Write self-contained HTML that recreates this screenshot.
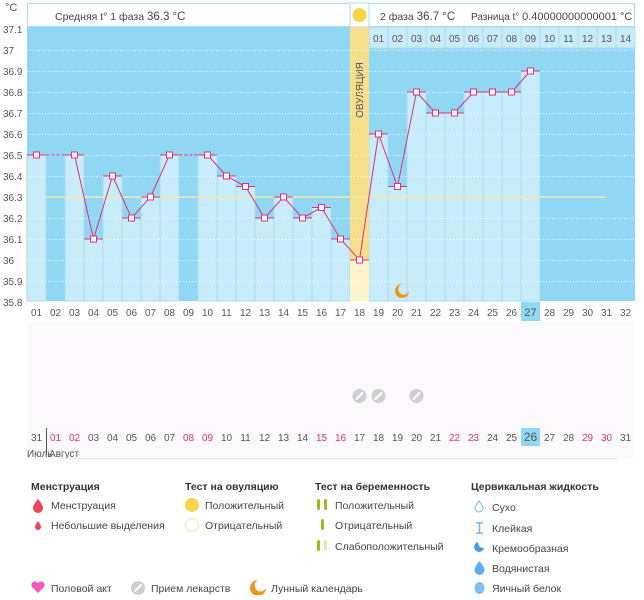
<!DOCTYPE html>
<html><head><meta charset="utf-8"><style>
body{margin:0;background:#fff;font-family:"Liberation Sans","DejaVu Sans",sans-serif;}
svg text{font-family:"Liberation Sans","DejaVu Sans",sans-serif;}
</style></head><body>
<svg width="644" height="595" xmlns="http://www.w3.org/2000/svg">
<rect x="0" y="0" width="644" height="595" fill="#fff"/>
<rect x="27" y="322" width="608" height="136" fill="#fbf9fc"/>
<rect x="27" y="27" width="608" height="274" fill="#8fd7f3"/>
<rect x="27.5" y="3.5" width="607" height="23" fill="#fff" stroke="#a8dcef"/>
<text x="55" y="20" font-size="10.5" fill="#444">Средняя t° 1 фаза <tspan font-size="11.5">36.3 °C</tspan></text>
<rect x="350" y="3" width="19" height="24" fill="#fff" stroke="#a8dcef"/>
<circle cx="359.5" cy="15" r="7" fill="#f7d54a"/>
<text x="380" y="20" font-size="10.5" fill="#444">2 фаза <tspan font-size="11.5">36.7 °C</tspan></text>
<text x="471" y="20" font-size="10" fill="#444">Разница t° <tspan font-size="11">0.40000000000001 °C</tspan></text>
<g fill="#c9ecfa" stroke="#a8dcef" stroke-width="1">
<rect x="369" y="27" width="19" height="21"/><rect x="388" y="27" width="19" height="21"/><rect x="407" y="27" width="19" height="21"/><rect x="426" y="27" width="19" height="21"/><rect x="445" y="27" width="19" height="21"/><rect x="464" y="27" width="19" height="21"/><rect x="483" y="27" width="19" height="21"/><rect x="502" y="27" width="19" height="21"/><rect x="521" y="27" width="19" height="21"/><rect x="540" y="27" width="19" height="21"/><rect x="559" y="27" width="19" height="21"/><rect x="578" y="27" width="19" height="21"/><rect x="597" y="27" width="19" height="21"/><rect x="616" y="27" width="19" height="21"/>
</g>
<g font-size="10" fill="#555" text-anchor="middle">
<text x="378.5" y="42">01</text><text x="397.5" y="42">02</text><text x="416.5" y="42">03</text><text x="435.5" y="42">04</text><text x="454.5" y="42">05</text><text x="473.5" y="42">06</text><text x="492.5" y="42">07</text><text x="511.5" y="42">08</text><text x="530.5" y="42">09</text><text x="549.5" y="42">10</text><text x="568.5" y="42">11</text><text x="587.5" y="42">12</text><text x="606.5" y="42">13</text><text x="625.5" y="42">14</text>
</g>
<g fill="#c9ecfa" stroke="#a8dcef" stroke-width="1">
<rect x="27" y="155" width="19" height="146"/>
<rect x="65" y="155" width="19" height="146"/>
<rect x="84" y="239" width="19" height="62"/>
<rect x="103" y="176" width="19" height="125"/>
<rect x="122" y="218" width="19" height="83"/>
<rect x="141" y="197" width="19" height="104"/>
<rect x="160" y="155" width="19" height="146"/>
<rect x="198" y="155" width="19" height="146"/>
<rect x="217" y="176" width="19" height="125"/>
<rect x="236" y="186.5" width="19" height="114.5"/>
<rect x="255" y="218" width="19" height="83"/>
<rect x="274" y="197" width="19" height="104"/>
<rect x="293" y="218" width="19" height="83"/>
<rect x="312" y="207.5" width="19" height="93.5"/>
<rect x="331" y="239" width="19" height="62"/>
<rect x="369" y="134" width="19" height="167"/>
<rect x="388" y="186.5" width="19" height="114.5"/>
<rect x="407" y="92" width="19" height="209"/>
<rect x="426" y="113" width="19" height="188"/>
<rect x="445" y="113" width="19" height="188"/>
<rect x="464" y="92" width="19" height="209"/>
<rect x="483" y="92" width="19" height="209"/>
<rect x="502" y="92" width="19" height="209"/>
<rect x="521" y="71" width="19" height="230"/>
</g>
<rect x="350" y="27" width="19" height="233" fill="#f6df8c"/>
<rect x="350" y="260" width="19" height="41" fill="#fdf4cc"/>
<text transform="translate(363,90) rotate(-90)" font-size="10" fill="#555" text-anchor="middle">ОВУЛЯЦИЯ</text>
<g stroke="#fff" stroke-width="1" stroke-dasharray="1,2" opacity="0.85">
<line x1="27" y1="50.5" x2="635" y2="50.5"/><line x1="27" y1="71.5" x2="635" y2="71.5"/><line x1="27" y1="92.5" x2="635" y2="92.5"/><line x1="27" y1="113.5" x2="635" y2="113.5"/><line x1="27" y1="134.5" x2="635" y2="134.5"/><line x1="27" y1="155.5" x2="635" y2="155.5"/><line x1="27" y1="176.5" x2="635" y2="176.5"/><line x1="27" y1="218.5" x2="635" y2="218.5"/><line x1="27" y1="239.5" x2="635" y2="239.5"/><line x1="27" y1="260.5" x2="635" y2="260.5"/><line x1="27" y1="281.5" x2="635" y2="281.5"/>
</g>
<line x1="46" y1="197" x2="606" y2="197" stroke="#f0eab0" stroke-width="1.5"/>
<g font-size="10" fill="#555">
<text x="5" y="11" font-size="11">°C</text>
<text x="3" y="33">37.1</text><text x="3" y="54">37</text><text x="3" y="75">36.9</text><text x="3" y="96">36.8</text><text x="3" y="117">36.7</text><text x="3" y="138">36.6</text><text x="3" y="159">36.5</text><text x="3" y="180">36.4</text><text x="3" y="201">36.3</text><text x="3" y="222">36.2</text><text x="3" y="243">36.1</text><text x="3" y="264">36</text><text x="3" y="285">35.9</text><text x="3" y="306">35.8</text>
</g>
<g stroke="#e0307a" stroke-width="1" fill="none">
<polyline points="36.5,155 74.5,155" stroke-dasharray="3,2"/>
<polyline points="169.5,155 207.5,155" stroke-dasharray="3,2"/>
<polyline points="74.5,155 93.5,239 112.5,176 131.5,218 150.5,197 169.5,155"/>
<polyline points="207.5,155 226.5,176 245.5,186.5 264.5,218 283.5,197 302.5,218 321.5,207.5 340.5,239 359.5,260 378.5,134 397.5,186.5 416.5,92 435.5,113 454.5,113 473.5,92 492.5,92 511.5,92 530.5,71"/>
<path d="M27 155h19M65 155h19M84 239h19M103 176h19M122 218h19M141 197h19M160 155h19M198 155h19M217 176h19M236 186.5h19M255 218h19M274 197h19M293 218h19M312 207.5h19M331 239h19M350 260h19M369 134h19M388 186.5h19M407 92h19M426 113h19M445 113h19M464 92h19M483 92h19M502 92h19M521 71h19"/>
</g>
<g fill="#fff" stroke="#e0307a" stroke-width="1">
<rect x="33.5" y="152" width="6" height="6"/><rect x="71.5" y="152" width="6" height="6"/><rect x="90.5" y="236" width="6" height="6"/><rect x="109.5" y="173" width="6" height="6"/><rect x="128.5" y="215" width="6" height="6"/><rect x="147.5" y="194" width="6" height="6"/><rect x="166.5" y="152" width="6" height="6"/><rect x="204.5" y="152" width="6" height="6"/><rect x="223.5" y="173" width="6" height="6"/><rect x="242.5" y="183.5" width="6" height="6"/><rect x="261.5" y="215" width="6" height="6"/><rect x="280.5" y="194" width="6" height="6"/><rect x="299.5" y="215" width="6" height="6"/><rect x="318.5" y="204.5" width="6" height="6"/><rect x="337.5" y="236" width="6" height="6"/><rect x="356.5" y="257" width="6" height="6"/><rect x="375.5" y="131" width="6" height="6"/><rect x="394.5" y="183.5" width="6" height="6"/><rect x="413.5" y="89" width="6" height="6"/><rect x="432.5" y="110" width="6" height="6"/><rect x="451.5" y="110" width="6" height="6"/><rect x="470.5" y="89" width="6" height="6"/><rect x="489.5" y="89" width="6" height="6"/><rect x="508.5" y="89" width="6" height="6"/><rect x="527.5" y="68" width="6" height="6"/>
</g>
<path d="M402 284 a7 7 0 1 0 7 7 a5.5 5.5 0 1 1 -7 -7z" fill="#f0961c"/>
<rect x="521" y="302" width="19" height="19" fill="#8fd7f3"/>
<g font-size="10" fill="#555" text-anchor="middle">
<text x="36.5" y="316">01</text><text x="55.5" y="316">02</text><text x="74.5" y="316">03</text><text x="93.5" y="316">04</text><text x="112.5" y="316">05</text><text x="131.5" y="316">06</text><text x="150.5" y="316">07</text><text x="169.5" y="316">08</text><text x="188.5" y="316">09</text><text x="207.5" y="316">10</text><text x="226.5" y="316">11</text><text x="245.5" y="316">12</text><text x="264.5" y="316">13</text><text x="283.5" y="316">14</text><text x="302.5" y="316">15</text><text x="321.5" y="316">16</text><text x="340.5" y="316">17</text><text x="359.5" y="316">18</text><text x="378.5" y="316">19</text><text x="397.5" y="316">20</text><text x="416.5" y="316">21</text><text x="435.5" y="316">22</text><text x="454.5" y="316">23</text><text x="473.5" y="316">24</text><text x="492.5" y="316">25</text><text x="511.5" y="316">26</text><text x="530.5" y="316" font-size="11">27</text><text x="549.5" y="316">28</text><text x="568.5" y="316">29</text><text x="587.5" y="316">30</text><text x="606.5" y="316">31</text><text x="625.5" y="316">32</text>
</g>
<g fill="#cfcfd2"><circle cx="359.5" cy="396" r="7"/><circle cx="378.5" cy="396" r="7"/><circle cx="416.5" cy="396" r="7"/></g>
<g stroke="#fff" stroke-width="2"><line x1="356" y1="399.5" x2="363" y2="392.5"/><line x1="375" y1="399.5" x2="382" y2="392.5"/><line x1="413" y1="399.5" x2="420" y2="392.5"/></g>
<rect x="521" y="428" width="19" height="18" fill="#8fd7f3"/>
<line x1="46.5" y1="428" x2="46.5" y2="455" stroke="#555"/>
<g font-size="10" fill="#555" text-anchor="middle">
<text x="36.5" y="441">31</text><text x="55.5" y="441" fill="#e0307a">01</text><text x="74.5" y="441" fill="#e0307a">02</text><text x="93.5" y="441">03</text><text x="112.5" y="441">04</text><text x="131.5" y="441">05</text><text x="150.5" y="441">06</text><text x="169.5" y="441">07</text><text x="188.5" y="441" fill="#e0307a">08</text><text x="207.5" y="441" fill="#e0307a">09</text><text x="226.5" y="441">10</text><text x="245.5" y="441">11</text><text x="264.5" y="441">12</text><text x="283.5" y="441">13</text><text x="302.5" y="441">14</text><text x="321.5" y="441" fill="#e0307a">15</text><text x="340.5" y="441" fill="#e0307a">16</text><text x="359.5" y="441">17</text><text x="378.5" y="441">18</text><text x="397.5" y="441">19</text><text x="416.5" y="441">20</text><text x="435.5" y="441">21</text><text x="454.5" y="441" fill="#e0307a">22</text><text x="473.5" y="441" fill="#e0307a">23</text><text x="492.5" y="441">24</text><text x="511.5" y="441">25</text><text x="530.5" y="441" font-size="12">26</text><text x="549.5" y="441">27</text><text x="568.5" y="441">28</text><text x="587.5" y="441" fill="#e0307a">29</text><text x="606.5" y="441" fill="#e0307a">30</text><text x="625.5" y="441">31</text>
</g>
<text x="27" y="457" font-size="10" fill="#555">Июль</text>
<text x="49" y="457" font-size="10" fill="#555">Август</text>
<line x1="60" y1="458.5" x2="617" y2="458.5" stroke="#e8e8ea"/>
<g font-size="10.5" fill="#333" font-weight="bold">
<text x="31" y="490">Менструация</text><text x="185" y="490">Тест на овуляцию</text><text x="315" y="490">Тест на беременность</text><text x="471" y="490">Цервикальная жидкость</text>
</g>
<g font-size="10.5" fill="#444">
<text x="51" y="509">Менструация</text><text x="51" y="529">Небольшие выделения</text>
<text x="205" y="509">Положительный</text><text x="205" y="529">Отрицательный</text>
<text x="335" y="509">Положительный</text><text x="335" y="529">Отрицательный</text><text x="335" y="550">Слабоположительный</text>
<text x="492" y="511">Сухо</text><text x="492" y="532">Клейкая</text><text x="492" y="552">Кремообразная</text><text x="492" y="572">Водянистая</text><text x="492" y="592">Яичный белок</text>
<text x="51" y="592">Половой акт</text><text x="151" y="592">Прием лекарств</text><text x="271" y="592">Лунный календарь</text>
</g>
<path d="M38 499 q-5 6 -5 9 a5 5 0 0 0 10 0 q0 -3 -5 -9z" fill="#ef4256"/>
<path d="M38 521 q-3 4 -3 6 a3 3 0 0 0 6 0 q0 -2 -3 -6z" fill="#ef4256"/>
<circle cx="192" cy="505" r="7" fill="#f7d54a"/>
<circle cx="192" cy="525" r="6.5" fill="#fff" stroke="#e8eab0"/>
<g fill="#9ab925"><rect x="317" y="499" width="3" height="11" rx="1.5"/><rect x="324" y="499" width="3" height="11" rx="1.5"/><rect x="321" y="519" width="3" height="11" rx="1.5"/><rect x="317" y="540" width="3" height="11" rx="1.5"/></g>
<rect x="324" y="540" width="3" height="11" rx="1.5" fill="#e0e8c0"/>
<path d="M479 501 q-4 5 -4 7 a4 4 0 0 0 8 0 q0 -2 -4 -7z" fill="none" stroke="#6ab8e8"/>
<path d="M476 523 h7 M476 533 h7 M479.5 523 v10" stroke="#6ab8e8" stroke-width="1.5"/>
<path d="M478 542 a5 5 0 1 0 6 6 q-6 0 -6 -6z" fill="#3f9ee0"/>
<path d="M479.5 561 q-5 6 -5 9 a5 5 0 0 0 10 0 q0 -3 -5 -9z" fill="#5aacec"/>
<ellipse cx="479.5" cy="588" rx="5" ry="6" fill="#7ec0f0"/>
<path d="M38 593 l-6 -6 a3.5 3.5 0 0 1 6 -4 a3.5 3.5 0 0 1 6 4z" fill="#f05ab8"/>
<circle cx="138" cy="588" r="7" fill="#cfcfd2"/><line x1="134.5" y1="591.5" x2="141.5" y2="584.5" stroke="#fff" stroke-width="2"/>
<path d="M258 580 a8 8 0 1 0 8 8 a6 6 0 1 1 -8 -8z" fill="#f0961c"/>
</svg>
</body></html>
